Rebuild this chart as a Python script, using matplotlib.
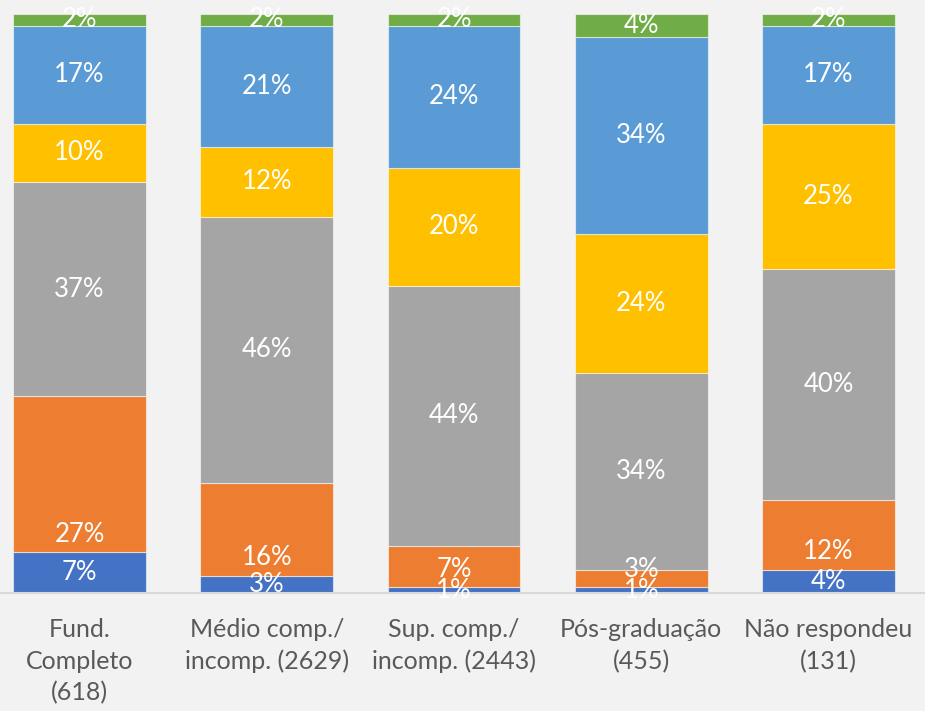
import numpy as np
import matplotlib
matplotlib.use("Agg")
import matplotlib.pyplot as plt

plt.rcParams['font.family'] = ['Lato', 'DejaVu Sans']

categories = [
    "Fund.\nCompleto\n(618)",
    "Médio comp./\nincomp. (2629)",
    "Sup. comp./\nincomp. (2443)",
    "Pós-graduação\n(455)",
    "Não respondeu\n(131)",
]

# Shares per education level, listed from the bottom segment up
seg_1 = [7, 3, 1, 1, 4]
seg_2 = [27, 16, 7, 3, 12]
seg_3 = [37, 46, 44, 34, 40]
seg_4 = [10, 12, 20, 24, 25]
seg_5 = [17, 21, 24, 34, 17]
seg_6 = [2, 2, 2, 4, 2]

series = [seg_1, seg_2, seg_3, seg_4, seg_5, seg_6]
colors = ["#4472c4", "#ed7d31", "#a5a5a5", "#ffc000", "#5b9bd5", "#70ad47"]
# label placement per series: centred, or just above the segment base
placement = ["center", "base", "center", "center", "center", "center"]

W, H = 925, 711
fig = plt.figure(figsize=(W / 100, H / 100), dpi=100)
fig.patch.set_facecolor("#f2f2f2")

y0, y1 = 593, 14
ax = fig.add_axes([0, (H - y0) / H, 1, (y0 - y1) / H])
ax.set_facecolor("#f2f2f2")

vals = np.array(series, dtype=float)
totals = vals.sum(axis=0)
shares = vals / totals  # each column stacks to 100%
base_off = 18 / (y0 - y1)

x = np.arange(len(categories))
bottom = np.zeros(len(categories))
for row, raw, col, pl in zip(shares, vals, colors, placement):
    ax.bar(x, row, bottom=bottom, width=0.71, color=col,
           edgecolor=(1, 1, 1, 0.55), linewidth=0.8, zorder=2)
    for xi, b, h, v in zip(x, bottom, row, raw):
        ypos = b + base_off if pl == "base" else b + h / 2
        ax.text(xi, ypos, f"{int(v)}%", ha="center", va="center",
                color="white", fontsize=18.5, zorder=3)
    bottom += row

ax.set_xlim((0 - 79.5) / 187.25, (W - 79.5) / 187.25)
ax.set_ylim(0, 1)
ax.set_xticks(x)
ax.set_xticklabels(categories, fontsize=18, color="#595959", linespacing=1.45)
ax.tick_params(axis="x", length=0, pad=18)
ax.set_yticks([])
for s in ["left", "right", "top"]:
    ax.spines[s].set_visible(False)
ax.spines["bottom"].set_color("#d9d9d9")
ax.spines["bottom"].set_linewidth(1.5)

fig.savefig("out.png", dpi=100, facecolor=fig.get_facecolor())
